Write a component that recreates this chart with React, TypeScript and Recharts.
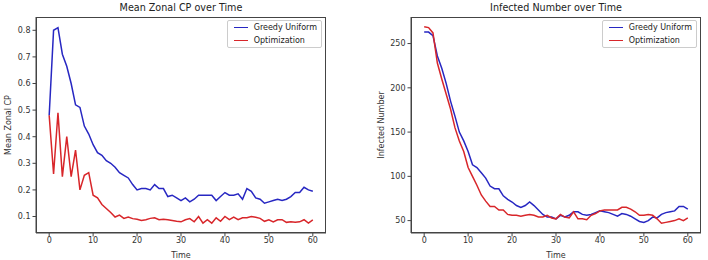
import { Line, LineChart, XAxis, YAxis } from 'recharts';

// time steps 0..60
const TIME = Array.from({ length: 61 }, (_, i) => i);

const CP_GREEDY = [
  0.48, 0.8, 0.81, 0.71, 0.665, 0.6, 0.52, 0.51, 0.44, 0.41, 0.37, 0.34,
  0.33, 0.31, 0.3, 0.285, 0.265, 0.255, 0.245, 0.22, 0.2, 0.205, 0.205,
  0.2, 0.22, 0.205, 0.205, 0.175, 0.18, 0.17, 0.16, 0.17, 0.155, 0.165,
  0.18, 0.18, 0.18, 0.18, 0.16, 0.175, 0.19, 0.18, 0.18, 0.185, 0.165,
  0.205, 0.195, 0.17, 0.165, 0.15, 0.155, 0.16, 0.165, 0.16, 0.165, 0.175,
  0.19, 0.19, 0.21, 0.2, 0.195,
];

const CP_OPT = [
  0.48, 0.26, 0.49, 0.25, 0.4, 0.25, 0.35, 0.2, 0.255, 0.265, 0.18, 0.17,
  0.145, 0.13, 0.115, 0.098, 0.105, 0.093, 0.098, 0.092, 0.09, 0.085,
  0.088, 0.093, 0.095, 0.088, 0.09, 0.088, 0.085, 0.082, 0.08, 0.088,
  0.092, 0.08, 0.1, 0.075, 0.088, 0.075, 0.095, 0.082, 0.1, 0.088, 0.098,
  0.088, 0.095, 0.095, 0.1, 0.097, 0.093, 0.082, 0.088, 0.08, 0.088, 0.088,
  0.078, 0.08, 0.078, 0.08, 0.088, 0.075, 0.087,
];

const INF_GREEDY = [
  263, 263, 259, 236, 222, 205, 185, 168, 150, 140, 128, 113, 110, 104, 98,
  89, 86, 86, 78, 74, 71, 67, 65, 67, 71, 67, 62, 57, 54, 54, 52, 56, 54,
  56, 60, 60, 57, 56, 57, 59, 61, 60, 59, 57, 55, 58, 57, 55, 52, 49, 48,
  50, 54, 53, 57, 59, 60, 61, 66, 66, 63,
];

const INF_OPT = [
  269, 268, 262, 228, 210, 193, 176, 155, 140, 128, 110, 100, 90, 79, 72,
  66, 66, 62, 62, 57, 56, 56, 55, 56, 57, 56, 54, 54, 56, 53, 52, 57, 54,
  53, 60, 52, 52, 51, 56, 58, 61, 62, 62, 62, 62, 65, 65, 63, 60, 56, 56,
  57, 56, 52, 47, 48, 49, 50, 52, 50, 53,
];

const X_TICKS = [0, 10, 20, 30, 40, 50, 60];
const CP_TICKS = [0.1, 0.2, 0.3, 0.4, 0.5, 0.6, 0.7, 0.8];
const INF_TICKS = [50, 100, 150, 200, 250];

const BLUE = '#2727c2';
const RED = '#d8262a';
const AXIS = '#444';
const FONT = "'DejaVu Sans', sans-serif";

const cpData = TIME.map((t, i) => ({ t, greedy: CP_GREEDY[i], opt: CP_OPT[i] }));
const infData = TIME.map((t, i) => ({ t, greedy: INF_GREEDY[i], opt: INF_OPT[i] }));

function LegendBox({ right }: { right: number }) {
  const row = (color: string, text: string) => (
    <div style={{ display: 'flex', alignItems: 'center', height: 13 }}>
      <span style={{ width: 14, height: 1.5, background: color, marginRight: 6 }} />
      <span>{text}</span>
    </div>
  );
  return (
    <div
      style={{
        position: 'absolute',
        top: 20,
        right,
        border: '1px solid #ccc',
        borderRadius: 2,
        background: 'rgba(255,255,255,0.8)',
        padding: '0px 4px 0px 6px',
        fontSize: 8,
        color: '#222',
      }}
    >
      {row(BLUE, 'Greedy Uniform')}
      {row(RED, 'Optimization')}
    </div>
  );
}

type PanelProps = {
  data: { t: number; greedy: number; opt: number }[];
  title: string;
  yLabel: string;
  yDomain: [number, number];
  yTicks: number[];
  yWidth: number;
  labelX: number;
  rightMargin: number;
  legendRight: number;
  left: number;
};

function Panel({ data, title, yLabel, yDomain, yTicks, yWidth, labelX, rightMargin, legendRight, left }: PanelProps) {
  const plotW = 354 - yWidth - rightMargin;
  return (
    <div style={{ position: 'absolute', left, top: 0, width: 354, height: 260 }}>
      <div
        style={{
          position: 'absolute',
          left: yWidth,
          width: plotW,
          top: 2,
          textAlign: 'center',
          fontSize: 9.6,
          lineHeight: '12px',
          color: '#222',
        }}
      >
        {title}
      </div>
      <LineChart width={354} height={260} data={data} margin={{ top: 17, right: rightMargin, bottom: 0, left: 0 }}>
        <XAxis
          dataKey='t'
          type='number'
          domain={[-3, 63]}
          ticks={X_TICKS}
          height={27}
          tickSize={3.5}
          tickMargin={1}
          stroke={AXIS}
          tick={{ fontSize: 8, fill: '#333' }}
          label={{ value: 'Time', position: 'insideBottom', offset: 2, fontSize: 8, fill: '#333' }}
        />
        <YAxis
          type='number'
          domain={yDomain}
          ticks={yTicks}
          width={yWidth}
          tickSize={3.5}
          tickMargin={2}
          stroke={AXIS}
          tick={{ fontSize: 8, fill: '#333' }}
          label={{ value: yLabel, angle: -90, position: 'insideLeft', offset: labelX, fontSize: 8, fill: '#333', style: { textAnchor: 'middle' } }}
        />
        <Line type='linear' dataKey='greedy' name='Greedy Uniform' stroke={BLUE} strokeWidth={1.5} dot={false} isAnimationActive={false} />
        <Line type='linear' dataKey='opt' name='Optimization' stroke={RED} strokeWidth={1.5} dot={false} isAnimationActive={false} />
      </LineChart>
      {/* axes frame, matplotlib style */}
      <div
        style={{
          position: 'absolute',
          left: yWidth,
          top: 17,
          width: plotW,
          height: 216,
          boxSizing: 'border-box',
          border: `1px solid ${AXIS}`,
          pointerEvents: 'none',
        }}
      />
      <LegendBox right={legendRight} />
    </div>
  );
}

export default function App() {
  return (
    <div style={{ position: 'absolute', left: 0, top: 0, width: 708, height: 260, background: '#fff', fontFamily: FONT }}>
      <Panel
        data={cpData}
        title='Mean Zonal CP over Time'
        yLabel='Mean Zonal CP'
        yDomain={[0.038, 0.85]}
        yTicks={CP_TICKS}
        yWidth={36}
        labelX={8}
        rightMargin={28}
        legendRight={32}
        left={0}
      />
      <Panel
        data={infData}
        title='Infected Number over Time'
        yLabel='Infected Number'
        yDomain={[36, 280]}
        yTicks={INF_TICKS}
        yWidth={57}
        labelX={27}
        rightMargin={7}
        legendRight={11}
        left={354}
      />
    </div>
  );
}
